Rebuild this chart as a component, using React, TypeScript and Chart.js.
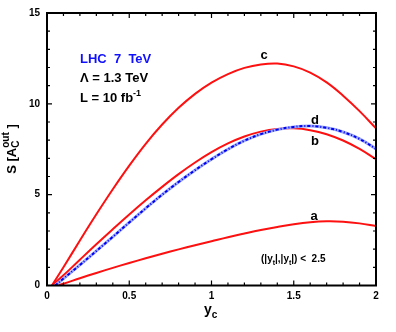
import React, { useEffect, useRef } from 'react';
import { Chart, registerables } from 'chart.js';

Chart.register(...registerables);

// x positions of the sampled curve points (y_c)
const X_GRID = [0.1, 0.2, 0.3, 0.4, 0.5, 0.6, 0.7, 0.8, 0.9, 1.0, 1.1, 1.2, 1.3, 1.4, 1.5, 1.6, 1.7, 1.8, 1.9, 2.0];

// curve names and the y_c where each curve starts from zero
const SERIES_NAMES = ['a', 'b', 'c', 'd'];
const SERIES_START_X = [0.06, 0.03, 0.03, 0.05];

// S values for each curve at X_GRID
const SERIES_A = [0.1, 0.4, 0.69, 0.97, 1.24, 1.5, 1.75, 1.99, 2.22, 2.44, 2.66, 2.86, 3.05, 3.22, 3.37, 3.48, 3.53, 3.51, 3.42, 3.27];
const SERIES_B = [0.56, 1.42, 2.27, 3.1, 3.91, 4.69, 5.43, 6.13, 6.77, 7.34, 7.82, 8.2, 8.47, 8.62, 8.65, 8.55, 8.33, 7.98, 7.52, 6.95];
const SERIES_C = [1.0, 2.48, 3.92, 5.3, 6.6, 7.8, 8.86, 9.78, 10.55, 11.17, 11.64, 11.98, 12.17, 12.22, 12.06, 11.72, 11.18, 10.45, 9.6, 8.65];
const SERIES_D = [0.38, 1.13, 1.9, 2.68, 3.47, 4.25, 5.0, 5.7, 6.35, 6.95, 7.5, 7.97, 8.33, 8.58, 8.73, 8.78, 8.68, 8.45, 8.07, 7.52];

// axes
const X_MIN = 0;
const X_MAX = 2;
const X_MAJOR_STEP = 0.5;
const X_MINOR_STEP = 0.1;
const Y_MIN = 0;
const Y_MAX = 15;
const Y_MAJOR_STEP = 5;
const Y_MINOR_STEP = 1;

const FONT = '"Liberation Sans", Arial, Helvetica, sans-serif';

function buildPoints(startX: number, values: number[]) {
  return [{ x: startX, y: 0 }, ...X_GRID.map((x, i) => ({ x, y: values[i] }))];
}

type Part = { t: string; size: number; dy: number };

function drawRich(ctx: CanvasRenderingContext2D, x: number, y: number, parts: Part[], align: 'left' | 'center') {
  let w = 0;
  for (const p of parts) {
    ctx.font = `bold ${p.size}px ${FONT}`;
    w += ctx.measureText(p.t).width;
  }
  let cx = align === 'center' ? x - w / 2 : x;
  ctx.textAlign = 'left';
  ctx.textBaseline = 'alphabetic';
  for (const p of parts) {
    ctx.font = `bold ${p.size}px ${FONT}`;
    ctx.fillText(p.t, cx, y + p.dy);
    cx += ctx.measureText(p.t).width;
  }
}

const framePlugin = {
  id: 'framePlugin',
  afterDraw(chart: any) {
    const { ctx, chartArea: ca, scales } = chart;
    const xs = scales.x;
    const ys = scales.y;
    ctx.save();
    ctx.strokeStyle = '#000';
    ctx.lineWidth = 1.2;
    const nx = Math.round((X_MAX - X_MIN) / X_MINOR_STEP);
    const perMajorX = Math.round(X_MAJOR_STEP / X_MINOR_STEP);
    for (let i = 0; i <= nx; i++) {
      const v = X_MIN + i * X_MINOR_STEP;
      const px = xs.getPixelForValue(v);
      const len = i % perMajorX === 0 ? 5 : 3;
      ctx.beginPath();
      ctx.moveTo(px, ca.bottom);
      ctx.lineTo(px, ca.bottom - len);
      ctx.moveTo(px, ca.top);
      ctx.lineTo(px, ca.top + len);
      ctx.stroke();
    }
    const ny = Math.round((Y_MAX - Y_MIN) / Y_MINOR_STEP);
    const perMajorY = Math.round(Y_MAJOR_STEP / Y_MINOR_STEP);
    for (let i = 0; i <= ny; i++) {
      const v = Y_MIN + i * Y_MINOR_STEP;
      const py = ys.getPixelForValue(v);
      const len = i % perMajorY === 0 ? 5 : 3;
      ctx.beginPath();
      ctx.moveTo(ca.left, py);
      ctx.lineTo(ca.left + len, py);
      ctx.moveTo(ca.right, py);
      ctx.lineTo(ca.right - len, py);
      ctx.stroke();
    }
    ctx.lineWidth = 2;
    ctx.strokeRect(ca.left, ca.top, ca.right - ca.left, ca.bottom - ca.top);

    // annotations
    ctx.fillStyle = '#1010ff';
    drawRich(ctx, 80, 63, [{ t: 'LHC  7  TeV', size: 13, dy: 0 }], 'left');
    ctx.fillStyle = '#000';
    drawRich(ctx, 80, 82, [{ t: 'Λ = 1.3 TeV', size: 13, dy: 0 }], 'left');
    drawRich(ctx, 80, 102, [{ t: 'L = 10 fb', size: 13, dy: 0 }, { t: '-1', size: 9, dy: -6 }], 'left');

    // curve labels
    drawRich(ctx, 264, 59, [{ t: 'c', size: 13, dy: 0 }], 'center');
    drawRich(ctx, 315, 124, [{ t: 'd', size: 13, dy: 0 }], 'center');
    drawRich(ctx, 315, 145, [{ t: 'b', size: 13, dy: 0 }], 'center');
    drawRich(ctx, 314, 220, [{ t: 'a', size: 13, dy: 0 }], 'center');

    // cut annotation
    drawRich(ctx, 261, 262, [
      { t: '(|y', size: 10, dy: 0 },
      { t: 't', size: 7, dy: 3 },
      { t: '|,|y', size: 10, dy: 0 },
      { t: 't', size: 7, dy: 3 },
      { t: '|) <  2.5', size: 10, dy: 0 },
    ], 'left');

    // x axis title
    drawRich(ctx, 204, 314, [{ t: 'y', size: 14, dy: 0 }, { t: 'c', size: 10, dy: 4 }], 'left');

    // y axis title (rotated)
    ctx.save();
    ctx.translate(16, 149);
    ctx.rotate(-Math.PI / 2);
    ctx.font = `bold 13px ${FONT}`;
    const p1 = 'S [A';
    const w1 = ctx.measureText(p1).width;
    ctx.font = `bold 10px ${FONT}`;
    const wOut = ctx.measureText('out').width;
    ctx.font = `bold 13px ${FONT}`;
    const p3 = ' ]';
    const w3 = ctx.measureText(p3).width;
    const total = w1 + wOut + w3;
    let cx = -total / 2;
    ctx.textAlign = 'left';
    ctx.textBaseline = 'alphabetic';
    ctx.fillText(p1, cx, 0);
    cx += w1;
    ctx.font = `bold 10px ${FONT}`;
    ctx.fillText('C', cx, 3);
    ctx.fillText('out', cx, -7);
    cx += wOut;
    ctx.font = `bold 13px ${FONT}`;
    ctx.fillText(p3, cx, 0);
    ctx.restore();

    ctx.restore();
  },
};

export default function App() {
  const canvasRef = useRef<HTMLCanvasElement | null>(null);

  useEffect(() => {
    const canvas = canvasRef.current;
    if (!canvas) return;
    const seriesValues = [SERIES_A, SERIES_B, SERIES_C, SERIES_D];
    const pts = seriesValues.map((vals, i) => buildPoints(SERIES_START_X[i], vals));
    const red = '#ff1010';
    const datasets: any[] = [
      { label: SERIES_NAMES[0], data: pts[0], borderColor: red, borderWidth: 2, order: 3 },
      { label: SERIES_NAMES[1], data: pts[1], borderColor: red, borderWidth: 2, order: 3 },
      { label: SERIES_NAMES[2], data: pts[2], borderColor: red, borderWidth: 2, order: 3 },
      { label: SERIES_NAMES[3] + ' halo', data: pts[3], borderColor: '#9aa6ff', borderWidth: 3, order: 1 },
      { label: SERIES_NAMES[3], data: pts[3], borderColor: '#0000f0', borderWidth: 2, borderDash: [3, 2, 1, 2], order: 0 },
    ].map((d) => ({ ...d, pointRadius: 0, fill: false, tension: 0.4 }));

    const chart = new Chart(canvas, {
      type: 'line',
      data: { datasets },
      options: {
        responsive: false,
        animation: false,
        devicePixelRatio: 1,
        layout: { padding: { left: 0, top: 13, right: 20, bottom: 0 } },
        plugins: { legend: { display: false }, tooltip: { enabled: false } },
        scales: {
          x: {
            type: 'linear',
            min: X_MIN,
            max: X_MAX,
            grid: { display: false, drawTicks: false },
            border: { display: false },
            ticks: {
              stepSize: X_MAJOR_STEP,
              color: '#000',
              padding: 5,
              maxRotation: 0,
              font: { family: FONT, size: 10, weight: 'bold' },
              callback: (v: any) => String(Number(v)),
            },
            afterFit: (s: any) => {
              s.height = 46.5;
            },
          },
          y: {
            type: 'linear',
            min: Y_MIN,
            max: Y_MAX,
            grid: { display: false, drawTicks: false },
            border: { display: false },
            ticks: {
              stepSize: Y_MAJOR_STEP,
              color: '#000',
              padding: 7,
              font: { family: FONT, size: 10, weight: 'bold' },
              callback: (v: any) => String(Number(v)),
            },
            afterFit: (s: any) => {
              s.width = 47;
            },
          },
        },
      },
      plugins: [framePlugin],
    });
    return () => chart.destroy();
  }, []);

  return (
    <div style={{ position: 'fixed', left: 0, top: 0, width: 396, height: 332, background: '#fff' }}>
      <canvas ref={canvasRef} width={396} height={332} style={{ display: 'block', width: 396, height: 332 }} />
    </div>
  );
}
